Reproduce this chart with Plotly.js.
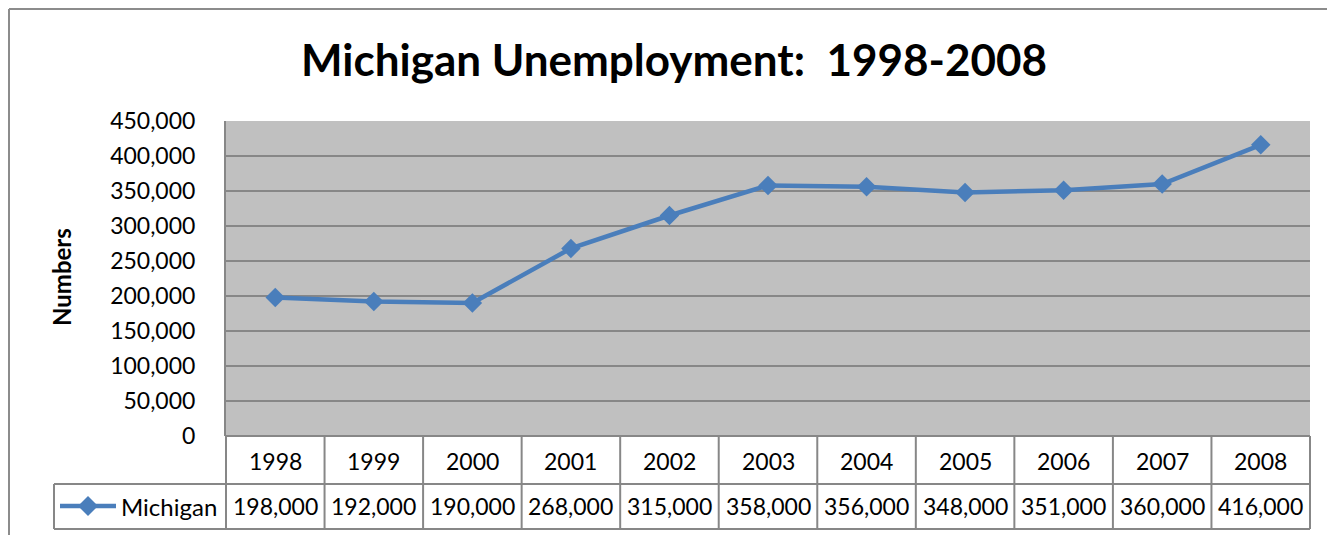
<!DOCTYPE html>
<html>
<head>
<meta charset="utf-8">
<script src="https://cdn.plot.ly/plotly-3.0.1.min.js"></script>
<style>html,body{margin:0;padding:0;background:#fff;}#chart{width:1327px;height:535px;}</style>
</head>
<body>
<div id="chart"></div>
<script>
var years = ['1998','1999','2000','2001','2002','2003','2004','2005','2006','2007','2008'];
var michigan = [198000,192000,190000,268000,315000,358000,356000,348000,351000,360000,416000];
var seriesName = 'Michigan';
var chartTitle = 'Michigan Unemployment:\u00a0 1998-2008';
var yTitle = 'Numbers';

var FONT = 'Lato, "Open Sans", sans-serif';
var GRID = '#878787';
var BLUE = '#4a7ebb';

// geometry helpers (pixel -> paper) for decoration only
var W = 1327, H = 535, L = 226, R = 17, T = 121, B = 99;
var pw = W - L - R, ph = H - T - B;
function px(x){ return (x - L) / pw; }
function py(y){ return (H - B - y) / ph; }

var n = years.length;
var row1Bottom = py(484), row2Bottom = py(529);
var legendLeft = px(54);

var shapes = [];
var ann = [];
// table horizontal lines
shapes.push({type:'line', xref:'paper', yref:'paper', x0:0, x1:1, y0:0, y1:0, line:{color:GRID, width:2}});
shapes.push({type:'line', xref:'paper', yref:'paper', x0:legendLeft, x1:1, y0:row1Bottom, y1:row1Bottom, line:{color:GRID, width:2}});
shapes.push({type:'line', xref:'paper', yref:'paper', x0:legendLeft, x1:1, y0:row2Bottom, y1:row2Bottom, line:{color:GRID, width:2}});
// vertical lines between categories
for (var i = 0; i <= n; i++) {
  shapes.push({type:'line', xref:'paper', yref:'paper', x0:i/n, x1:i/n, y0:row2Bottom, y1:0, line:{color:GRID, width:2}});
}
shapes.push({type:'line', xref:'paper', yref:'paper', x0:legendLeft, x1:legendLeft, y0:row2Bottom, y1:row1Bottom, line:{color:GRID, width:2}});
// legend key in table
var keyY = py(506);
shapes.push({type:'line', xref:'paper', yref:'paper', x0:px(60), x1:px(116), y0:keyY, y1:keyY, line:{color:BLUE, width:4.5}});
shapes.push({type:'path', xref:'paper', yref:'paper', xsizemode:'pixel', ysizemode:'pixel', xanchor:px(88), yanchor:keyY,
  path:'M-10,0 L0,10 L10,0 L0,-10 Z', fillcolor:BLUE, line:{width:0}});
// outer chart border
shapes.push({type:'line', xref:'paper', yref:'paper', x0:px(9), x1:1.05, y0:py(9), y1:py(9), line:{color:'#8c8c8c', width:2}});
shapes.push({type:'line', xref:'paper', yref:'paper', x0:px(9), x1:px(9), y0:py(9), y1:-0.4, line:{color:'#8c8c8c', width:2}});

// table text (x given as category index on the category axis)
for (var j = 0; j < n; j++) {
  ann.push({xref:'x', yref:'paper', x:j, y:py(461), text:years[j], showarrow:false,
    xanchor:'center', yanchor:'middle', font:{family:FONT, size:23, color:'#000'}});
  ann.push({xref:'x', yref:'paper', x:j, y:keyY, text:michigan[j].toLocaleString('en-US'), showarrow:false,
    xanchor:'center', yanchor:'middle', font:{family:FONT, size:23, color:'#000'}});
}
ann.push({xref:'paper', yref:'paper', x:px(119), y:keyY, text:seriesName, showarrow:false,
  xanchor:'left', yanchor:'middle', font:{family:FONT, size:24, color:'#000'}});
// y axis title
ann.push({xref:'paper', yref:'paper', x:px(61), y:py(277), text:'<b>'+yTitle+'</b>', showarrow:false, textangle:-90,
  xanchor:'center', yanchor:'middle', font:{family:FONT, size:24, color:'#000'}});

var trace = {
  type:'scatter', mode:'lines+markers', x:years, y:michigan, name:seriesName,
  line:{color:BLUE, width:4.5},
  marker:{symbol:'diamond', size:15, color:BLUE},
  cliponaxis:false, showlegend:false
};

var layout = {
  width:W, height:H,
  margin:{l:L, r:R, t:T, b:B, pad:0},
  paper_bgcolor:'#ffffff', plot_bgcolor:'#c0c0c0',
  title:{text:'<b>'+chartTitle+'</b>', x:674/W, xanchor:'center', y:1-61/H, yanchor:'middle',
    font:{family:FONT, size:44, color:'#000'}},
  xaxis:{type:'category', range:[-0.5, n-0.5], showticklabels:false, ticks:'', showgrid:false, zeroline:false, showline:false, fixedrange:true},
  yaxis:{range:[0,450000], dtick:50000, tick0:0, tickformat:',d', showgrid:true, gridcolor:GRID, gridwidth:2,
    zeroline:false, showline:true, linecolor:GRID, linewidth:2, ticks:'', ticklabelstandoff:24,
    tickfont:{family:FONT, size:23, color:'#000'}, fixedrange:true},
  shapes:shapes, annotations:ann, showlegend:false
};

Plotly.newPlot('chart', [trace], layout, {staticPlot:true});
</script>
</body>
</html>
